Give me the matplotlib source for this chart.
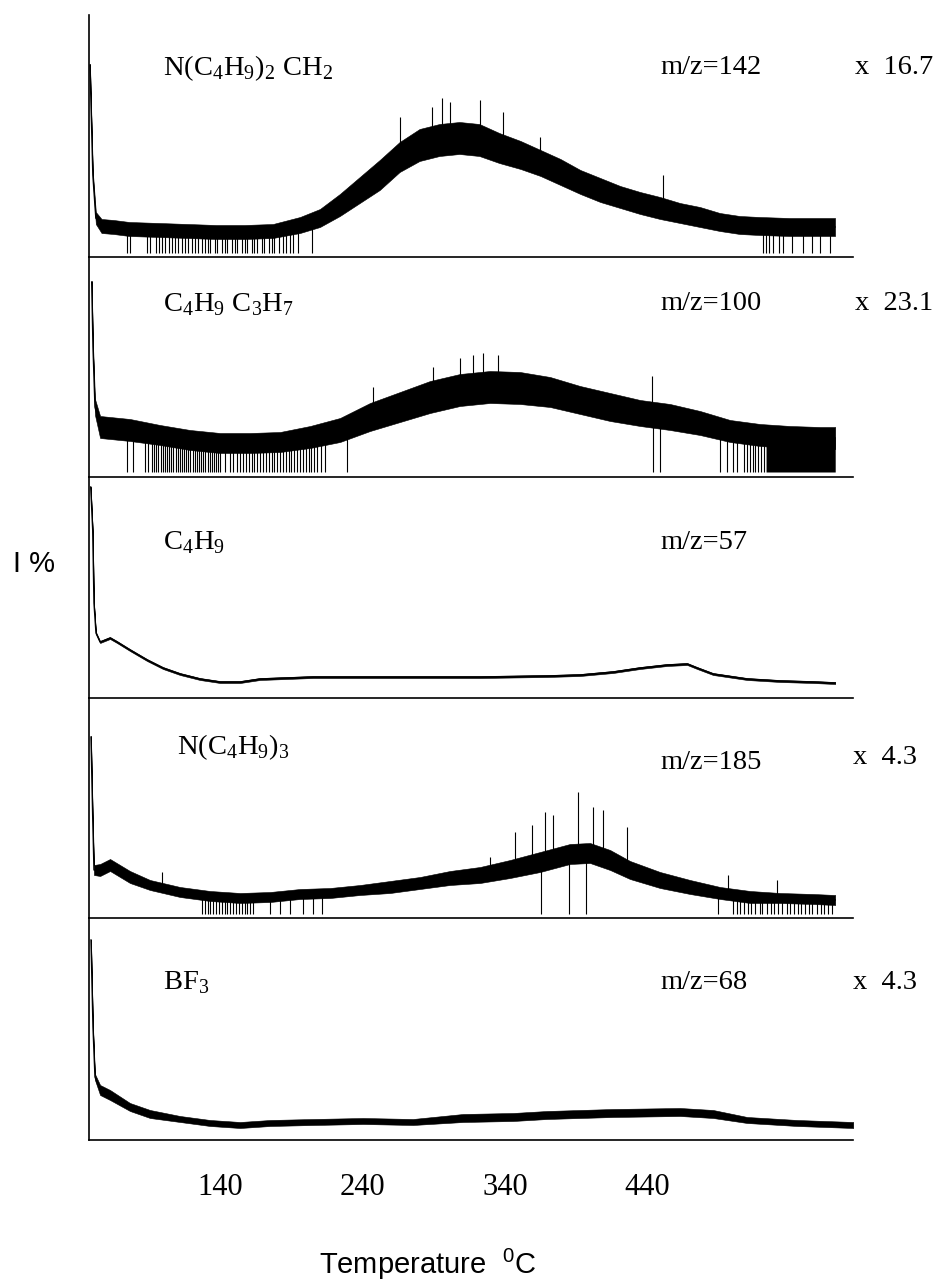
import numpy as np
import matplotlib
matplotlib.use("Agg")
import matplotlib.pyplot as plt

# ---------------------------------------------------------------- data
# temperature axis (deg C) and tick labels
ticks = [140, 240, 340, 440]
tick_labels = ["140", "240", "340", "440"]

species = [
    r"N(C$_{\mathregular{4}}$H$_{\mathregular{9}}$)$_{\mathregular{2}}$ CH$_{\mathregular{2}}$",
    r"C$_{\mathregular{4}}$H$_{\mathregular{9}}$ C$_{\mathregular{3}}$H$_{\mathregular{7}}$",
    r"C$_{\mathregular{4}}$H$_{\mathregular{9}}$",
    r"N(C$_{\mathregular{4}}$H$_{\mathregular{9}}$)$_{\mathregular{3}}$",
    r"BF$_{\mathregular{3}}$",
]
mz_labels = ["m/z=142", "m/z=100", "m/z=57", "m/z=185", "m/z=68"]
factors = ["x  16.7", "x  23.1", "", "x  4.3", "x  4.3"]

# Panel 1: N(C4H9)2CH2  (mean level, noise half-width)
t1 = [48.4, 49.4, 50.4, 52.5, 56.5, 65, 76, 97, 117, 137, 157, 177, 196, 210, 224, 238, 252,
      266, 280, 294, 308, 322, 336, 351, 365, 379, 393, 407, 421, 435, 449, 463, 477, 491,
      505, 519, 540, 560, 572]
i1 = [192, 137, 82, 39, 31, 30, 28, 27, 26, 25, 25, 26, 32, 39, 52, 67, 82, 100, 112, 117,
      119, 117, 109, 102, 94, 85, 75, 67, 60, 54, 49, 44, 40, 35, 32, 31, 30, 30, 30]
n1 = [1, 2, 3, 6, 7, 7, 7, 7, 7, 7, 7, 7, 8, 9, 11, 13, 15, 15, 16, 16, 16, 16, 15, 14, 13,
      13, 12, 12, 11, 11, 11, 10, 10, 9, 9, 9, 9, 9, 9]
down1 = [74.4, 76.5, 88.5, 90.6, 95, 97, 99, 101, 104, 106, 108, 110, 113, 115, 117, 120, 122,
         124, 127, 129, 131, 133, 136, 138, 141, 143, 145, 148, 150, 152, 155, 157, 159, 162,
         164, 166, 169, 171, 174, 176, 178, 181, 184, 186, 189, 191, 194.6, 204.5, 521.4,
         523.5, 525.6, 528.4, 532.6, 535.5, 541.8, 549.6, 555.9, 561.5, 568.6]
up1_t = [266.3, 288.8, 295.8, 301.4, 322.5, 338.7, 364.7, 451.2]
up1_h = [140, 150, 159, 155, 157, 145, 120, 82]
zones1 = []

# Panel 2: C4H9C3H7
t2 = [49.6, 50.5, 51.9, 55.5, 76.5, 97.6, 118.7, 139.8, 160.9, 182, 203.1, 224.1, 245.2,
      266.3, 287.4, 308.4, 329.5, 350.6, 371.7, 392.8, 413.9, 435, 456, 477.1, 498.2, 519.3,
      540.4, 561.5, 572.1]
i2 = [195, 130, 70, 50, 47, 42, 37, 34, 34, 35, 40, 47, 60, 70, 80, 87, 90, 89, 85, 77, 70,
      64, 60, 54, 46, 42, 40, 39, 39]
n2 = [1, 3, 8, 11, 11, 10, 10, 10, 10, 10, 11, 12, 14, 15, 16, 16, 16, 16, 15, 14, 14, 13,
      13, 12, 11, 11, 11, 11, 11]
down2 = [74.2, 78.9, 87.1, 89.4, 92, 93.5, 95, 96.5, 98, 99.5, 101, 102.5, 104, 105.5, 107,
         108.5, 110, 111.5, 113, 114.5, 116, 117.5, 119, 120.5, 122, 123.5, 125, 126.5, 128,
         129.5, 131, 132.5, 134, 135.5, 137, 138.5, 140, 143, 147, 149, 152, 154, 156, 158,
         160, 162, 164, 166, 168, 170, 172, 174, 176, 178, 180, 182, 184, 186, 188, 190, 192,
         194, 196, 198, 200, 202, 204, 206, 208, 211, 213.6, 228.8, 444.3, 449, 491.2, 495.9,
         500.6, 503, 508, 510, 512, 514, 516, 518, 520, 522]
up2_t = [247.3, 289.6, 308.4, 317.6, 324.6, 335.2, 443.4]
up2_h = [90, 110, 119, 122, 124, 122, 101]
zones2 = [(523.5, 572.1)]

# Panel 3: C4H9
t3 = [48.9, 50.3, 51.2, 52.6, 55.5, 62.5, 67.4, 76.5, 88.5, 99.7, 111.7, 125.7, 139.8, 153.9,
      167.9, 205.2, 275.4, 322.5, 369.6, 392.8, 416, 435, 453.9, 468.1, 475.1, 486.3, 510.2,
      533.4, 556.6, 572.1]
i3 = [211, 168, 95, 65, 56, 60, 56, 48, 38, 30, 24, 19, 16, 16, 19, 21, 21, 21, 22, 23, 26,
      30, 33, 34, 30, 24, 19, 17, 16, 15]
n3 = [0.3, 0.3, 0.5, 1, 1, 1, 1, 1, 1, 1, 1, 1, 1, 1, 1, 1, 1, 1, 1, 1, 1, 1, 1, 1, 1, 1, 1,
      1, 1, 1]
down3 = []
up3_t = []
up3_h = []
zones3 = []

# Panel 4: N(C4H9)3
t4 = [49.1, 50.3, 51.2, 55.5, 62.5, 76.5, 90.6, 111.7, 132.8, 153.9, 175, 196.1, 217.1,
      238.2, 259.3, 280.3, 301.4, 322.5, 343.6, 364.7, 385.7, 399.8, 413.9, 427.9, 449,
      470.1, 491.2, 512.3, 533.4, 556.6, 572.1]
i4 = [181, 101, 48, 48, 53, 41, 33, 26, 22, 20, 21, 24, 25, 28, 31, 35, 40, 43, 49, 56, 64,
      65, 58, 48, 38, 31, 25, 21, 20, 19, 18]
n4 = [1, 2, 5, 6, 6, 6, 5, 5, 5, 5, 5, 5, 5, 5, 6, 6, 7, 8, 9, 10, 10, 10, 10, 9, 8, 7, 6, 6,
      5, 5, 5]
down4 = [127, 129, 131, 133, 135, 137, 139, 141, 143, 145, 147, 149, 151, 153, 155, 157, 159,
         161, 163, 175, 182, 189.1, 198.2, 205.2, 211.6, 365.5, 385, 397, 489.8, 500, 503,
         505, 508, 511, 513, 516, 519, 521, 524, 527, 529, 532, 535, 538, 540, 543, 546, 548,
         551, 554, 556, 559, 562, 564, 567, 570]
up4_t = [99, 329.5, 347.1, 359.1, 368.2, 373.8, 391.4, 402, 409, 425.8, 496.8, 531.3]
up4_h = [46, 61, 86, 93, 106, 103, 126, 111, 108, 91, 43, 38]
zones4 = []

# Panel 5: BF3
t5 = [49.1, 50.5, 51.9, 55.5, 62.5, 76.5, 90.6, 111.7, 132.8, 153.9, 175, 205.2, 240.3,
      275.4, 310.6, 345.7, 369.6, 416, 463.1, 486.3, 510.2, 545.4, 584.8]
i5 = [200, 113, 63, 50, 45, 33, 26, 21, 17, 15, 17, 18, 19, 18, 22, 23, 25, 27, 28, 26, 20,
      17, 15]
n5 = [0.5, 1, 3, 5, 5, 4, 4, 3, 3, 3, 3, 3, 3, 3, 4, 4, 4, 4, 4, 4, 3, 3, 3]
down5 = []
up5_t = []
up5_h = []
zones5 = []

panels = [
    (t1, i1, n1, down1, up1_t, up1_h, zones1),
    (t2, i2, n2, down2, up2_t, up2_h, zones2),
    (t3, i3, n3, down3, up3_t, up3_h, zones3),
    (t4, i4, n4, down4, up4_t, up4_h, zones4),
    (t5, i5, n5, down5, up5_t, up5_h, zones5),
]

# ---------------------------------------------------------------- layout
W, H = 947, 1284
fig = plt.figure(figsize=(W / 100, H / 100), dpi=100)
fig.patch.set_facecolor("white")

x_left, x_right = 89, 853
tops = [15, 257, 477, 698, 918]
bottoms = [257, 477, 698, 918, 1140]
spike_base = [4, 5, 4, 4, 4]
xlim = (47.7, 584.6)

SERIF = "Liberation Serif"
SANS = "Liberation Sans"

axes = []
for k, (t, c, n, down, up_t, up_h, zones) in enumerate(panels):
    hpx = bottoms[k] - tops[k]
    ax = fig.add_axes([x_left / W, 1 - bottoms[k] / H, (x_right - x_left) / W, hpx / H])
    ax.set_xlim(*xlim)
    ax.set_ylim(0, hpx)
    for s in ("top", "right"):
        ax.spines[s].set_visible(False)
    for s in ("left", "bottom"):
        ax.spines[s].set_linewidth(1.2)
        ax.spines[s].set_color("black")
    ax.set_yticks([])
    ax.tick_params(axis="x", length=0)
    ax.patch.set_alpha(0)

    t = np.asarray(t, float)
    c = np.asarray(c, float)
    n = np.asarray(n, float)
    ax.fill_between(t, c - n, c + n, color="black", lw=0.4)
    ax.plot(t, c, color="black", lw=1.0)
    if down:
        d = np.asarray(down, float)
        ax.vlines(d, spike_base[k], np.interp(d, t, c), color="black", lw=0.8)
    if up_t:
        u = np.asarray(up_t, float)
        ax.vlines(u, np.interp(u, t, c), up_h, color="black", lw=0.8)
    for z0, z1 in zones:
        xs = np.array(sorted([z0, z1] + [ti for ti in t if z0 < ti < z1]))
        ax.fill_between(xs, spike_base[k], np.interp(xs, t, c), color="black", lw=0)

    if k < 4:
        ax.set_xticks([])
    else:
        ax.set_xticks(ticks)
        ax.set_xticklabels(tick_labels, fontfamily=SERIF, fontsize=22)
        ax.tick_params(axis="x", length=0, pad=24)
    axes.append(ax)

# ---------------------------------------------------------------- texts
def fx(px):
    return px / W


def fy(py):
    return 1 - py / H


species_x = [163, 163, 163, 177, 163]
species_y = [75, 311, 549, 754, 989]
mz_y = [74, 310, 549, 769, 989]
fac_x = [855, 855, 855, 853, 853]
fac_y = [74, 310, 549, 764, 989]

for k in range(5):
    fig.text(fx(species_x[k]), fy(species_y[k]), species[k], fontfamily=SERIF,
             fontsize=20.5, va="baseline", ha="left")
    fig.text(fx(660), fy(mz_y[k]), mz_labels[k], fontfamily=SERIF, fontsize=20.5,
             va="baseline", ha="left")
    if factors[k]:
        fig.text(fx(fac_x[k]), fy(fac_y[k]), factors[k], fontfamily=SERIF, fontsize=20.5,
                 va="baseline", ha="left")

fig.text(fx(13), fy(572), "I %", fontfamily=SANS, fontsize=21, va="baseline", ha="left")
fig.text(fx(319), fy(1274), r"Temperature  $^{\mathregular{0}}$C", fontfamily=SANS,
         fontsize=21, va="baseline", ha="left")

fig.savefig("out.png", dpi=100, facecolor="white")
